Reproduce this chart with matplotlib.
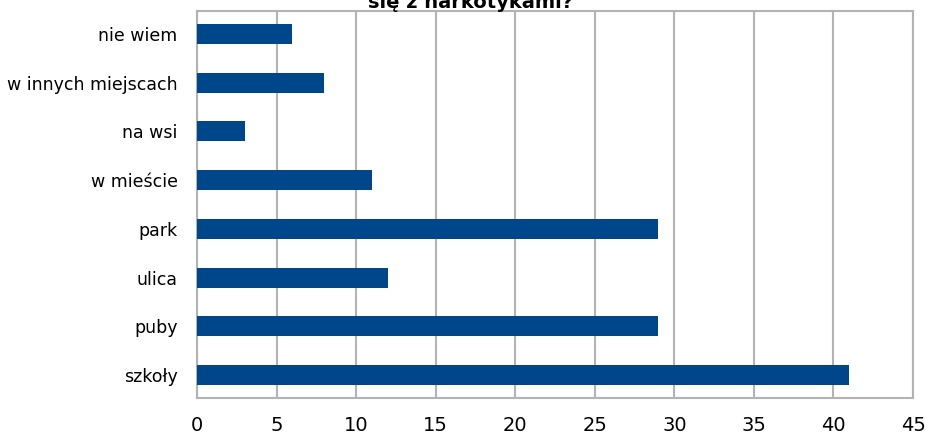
import matplotlib
matplotlib.use("Agg")
import matplotlib.pyplot as plt

# Data (bottom to top as drawn)
categories = ["szkoły", "puby", "ulica", "park", "w mieście", "na wsi",
              "w innych miejscach", "nie wiem"]
values = [41, 29, 12, 29, 11, 3, 8, 6]
xticks = [0, 5, 10, 15, 20, 25, 30, 35, 40, 45]

bar_color = "#00468a"
grid_color = "#b3b3b3"

fig = plt.figure(figsize=(9.26, 4.34), dpi=100)
ax = fig.add_axes([197 / 926, 1 - 398 / 434, (913 - 197) / 926, (398 - 11) / 434])

ax.barh(range(len(categories)), values, height=0.41, color=bar_color, zorder=3)

ax.set_xlim(0, 45)
ax.set_ylim(-0.47, len(categories) - 0.53)
ax.set_xticks(xticks)
ax.set_yticks(range(len(categories)))
ax.set_yticklabels(categories, fontsize=12.5)
ax.tick_params(axis="x", labelsize=14, length=0, pad=13)
ax.tick_params(axis="y", length=0, pad=14)

ax.grid(axis="x", color=grid_color, linewidth=1.5, zorder=0)
for s in ax.spines.values():
    s.set_color(grid_color)
    s.set_linewidth(1.5)

fig.text(0.508, 0.982, "się z narkotykami?", ha="center", va="baseline",
         fontsize=14, fontweight="bold")

fig.savefig("out.png", dpi=100)
